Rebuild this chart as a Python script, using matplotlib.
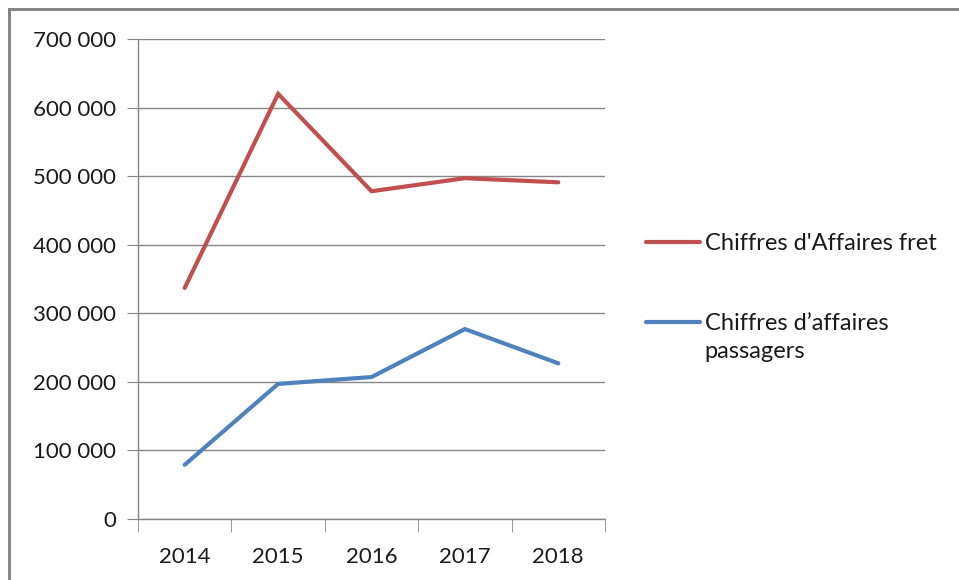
import matplotlib
matplotlib.use("Agg")
import matplotlib.pyplot as plt
from matplotlib.patches import Rectangle
from matplotlib.ticker import FuncFormatter, FixedLocator

# Chart data
years = ["2014", "2015", "2016", "2017", "2018"]
ca_fret = [337000, 620000, 478000, 497000, 491000]
ca_passagers = [79000, 197000, 207000, 277000, 227000]
label_fret = "Chiffres d'Affaires fret"
label_passagers = "Chiffres d\u2019affaires\npassagers"

plt.rcParams['font.family'] = ['Lato', 'DejaVu Sans']
FS = 16

fig = plt.figure(figsize=(9.59, 5.80), dpi=100)
ax = fig.add_axes([138 / 959, 1 - 519 / 580, (605 - 138) / 959, (519 - 39) / 580])

x = range(len(years))
ax.plot(x, ca_fret, color='#C0504D', linewidth=3, solid_capstyle='round',
        solid_joinstyle='miter', label=label_fret)
ax.plot(x, ca_passagers, color='#4F81BD', linewidth=3, solid_capstyle='round',
        solid_joinstyle='miter', label=label_passagers)

ax.set_xlim(-0.5, len(years) - 0.5)
ax.set_ylim(0, 700000)
ax.set_yticks(range(0, 700001, 100000))
ax.yaxis.set_major_formatter(FuncFormatter(lambda v, p: f"{int(v):,}".replace(",", " ")))
ax.set_xticks(list(x))
ax.set_xticklabels(years)
ax.xaxis.set_minor_locator(FixedLocator([i - 0.5 for i in range(len(years) + 1)]))

ax.grid(axis='y', color='#868686', linewidth=1)
ax.set_axisbelow(True)
for side in ['top', 'right']:
    ax.spines[side].set_visible(False)
for side in ['left', 'bottom']:
    ax.spines[side].set_color('#868686')
    ax.spines[side].set_linewidth(1)

ax.tick_params(axis='y', length=8, color='#868686', labelsize=FS, pad=8, labelcolor='#1a1a1a')
ax.tick_params(axis='x', which='major', length=0, labelsize=FS, pad=20, labelcolor='#1a1a1a')
ax.tick_params(axis='x', which='minor', length=9, color='#868686')

leg = ax.legend(loc='upper left', bbox_to_anchor=(634 / 959, 1 - 221 / 580),
                bbox_transform=fig.transFigure, frameon=False, fontsize=17,
                handlelength=2.3, handletextpad=0.2, labelspacing=2.5,
                borderpad=0, handleheight=1.0)
for t in leg.get_texts():
    t.set_color('#1a1a1a')
    t.set_linespacing(1.4)
# keep the legend line next to the first line of a wrapped label
try:
    for col in leg._legend_handle_box.get_children():
        for item in col.get_children():
            item.align = 'top'
except AttributeError:
    pass

# outer chart frame
fig.patches.append(Rectangle((9 / 959, -0.05), 1.0, 1 - 9 / 580 + 0.05,
                             transform=fig.transFigure, fill=False,
                             edgecolor='#878787', linewidth=2.2))

fig.savefig("out.png", dpi=100, facecolor='white')
